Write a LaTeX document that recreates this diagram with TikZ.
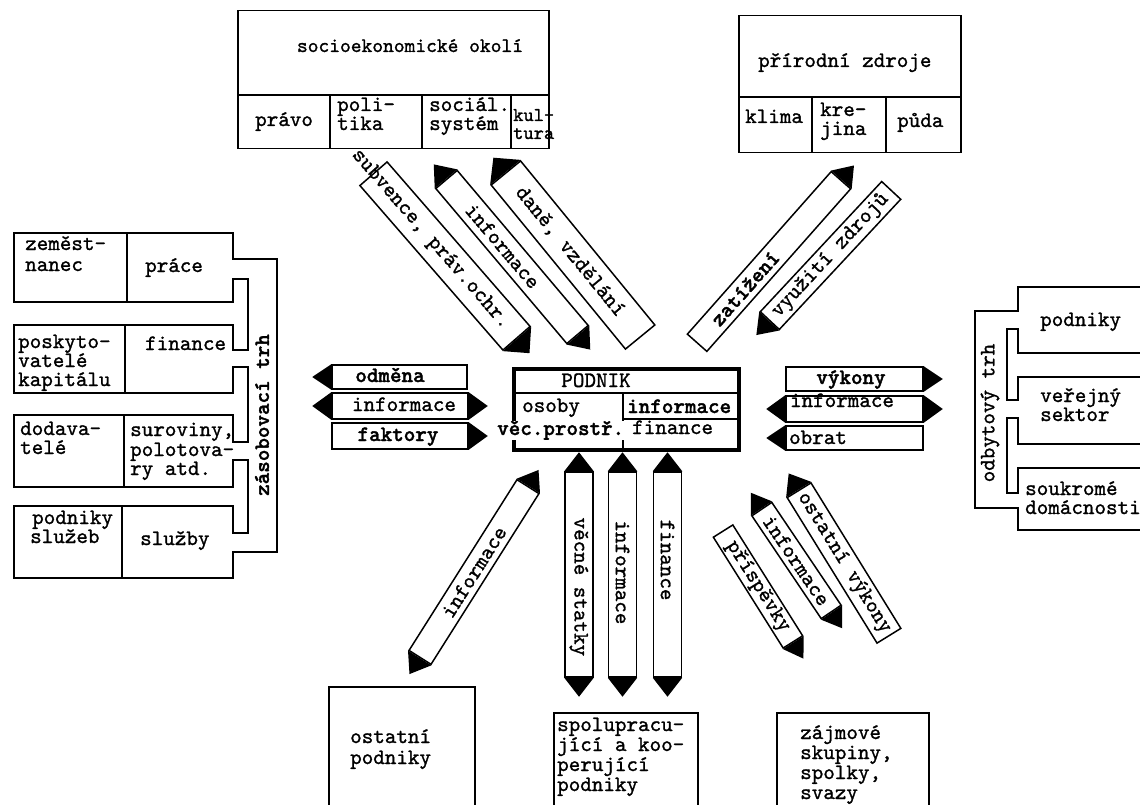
\documentclass[tikz,border=0pt]{standalone}
\usepackage{fontspec}
\newfontfamily\tw{lmmono10-regular.otf}[BoldFont=lmmonolt10-bold.otf, UprightFeatures={FakeBold=1.2}, BoldFeatures={FakeBold=1.6}]
\usetikzlibrary{calc}
\newcommand\fsz{\tw\fontsize{22}{20}\selectfont}
\newcommand\fss{\tw\fontsize{20.5}{20}\selectfont}
\newcommand\fsk{\tw\fontsize{19.5}{20}\selectfont}
\tikzset{
 ln/.style={line width=1.5pt},
 lbl/.style={inner sep=0pt, font=\fsz, anchor=base west},
 lblc/.style={inner sep=0pt, font=\fsz, anchor=base},
 blab/.style={inner sep=0pt, font=\fsz},
 frame/.style={draw, line width=1.5pt, inner sep=0pt, anchor=north west},
 band/.style={draw, line width=1.5pt, fill=white, inner sep=0pt, minimum width=#1},
 bw/.style={minimum height=#1},
}
\newcommand\headW[1]{\fill (#1.north west) -- ($(#1.west)!-19pt!(#1.east)$) -- (#1.south west) -- cycle;}
\newcommand\headE[1]{\fill (#1.north east) -- ($(#1.east)!-19pt!(#1.west)$) -- (#1.south east) -- cycle;}
\newcommand\putl[3]{\node[lbl] (#1) at #2 {#3};}
\begin{document}
\begin{tikzpicture}[x=1pt,y=-1pt]
\useasboundingbox[fill=white] (0,0) rectangle (1140,805);

% ---------- socioekonomicke okoli ----------
\node[frame, minimum width=311pt, minimum height=138pt] (soc) at (237,10) {};
\draw[ln] (237,95) -- (548,95);
\draw[ln] (330,95) -- (330,148);
\draw[ln] (422,95) -- (422,148);
\draw[ln] (511,95) -- (511,148);
\node[lblc, font=\fss] (tsoc) at (410,52) {socioekonomické okolí};
\putl{tpravo}{(255,126)}{právo}
\putl{tpol1}{(337,111)}{poli-}
\putl{tpol2}{(337,130)}{tika}
\putl{tsoc1}{(429,111)}{sociál.}
\putl{tsoc2}{(429,130)}{systém}
\node[lbl, font=\fsk] (tkul1) at (513,121) {kul-};
\node[lbl, font=\fsk] (tkul2) at (513,139) {tura};

% ---------- prirodni zdroje ----------
\node[frame, minimum width=222pt, minimum height=137pt] (nat) at (738,15) {};
\draw[ln] (738,97) -- (960,97);
\draw[ln] (812,97) -- (812,152);
\draw[ln] (886,97) -- (886,152);
\putl{tnat}{(758,67)}{přírodní zdroje}
\putl{tkli}{(745,123)}{klima}
\putl{tkra1}{(820,116)}{kre-}
\putl{tkra2}{(820,135)}{jina}
\putl{tpud}{(897,127)}{půda}

% ---------- zasobovaci trh ----------
\draw[ln] (233,259) -- (233,233) -- (14,233) -- (14,302) -- (233,302) -- (233,279) -- (248,279) -- (248,350) -- (233,350) -- (233,325) -- (14,325) -- (14,393) -- (233,393) -- (233,367) -- (248,367) -- (248,442) -- (233,442) -- (233,415) -- (14,415) -- (14,487) -- (233,487) -- (233,460) -- (248,460) -- (248,533) -- (233,533) -- (233,506) -- (14,506) -- (14,578) -- (233,578) -- (233,552) -- (277,552) -- (277,259) -- cycle;
\draw[ln] (127,233) -- (127,302);
\draw[ln] (125,325) -- (125,393);
\draw[ln] (124,415) -- (124,487);
\draw[ln] (122,506) -- (122,578);
\node[blab, rotate=90, font=\fsz\bfseries] (tzas) at (262,415) {zásobovací trh};
\putl{tzam1}{(25,250)}{zeměst-}
\putl{tzam2}{(25,271)}{nanec}
\putl{tprace}{(145,272)}{práce}
\putl{tpos1}{(18,348)}{poskyto-}
\putl{tpos2}{(18,367)}{vatelé}
\putl{tpos3}{(18,386)}{kapitálu}
\putl{tfin}{(145,350)}{finance}
\putl{tdod1}{(20,435)}{dodava-}
\putl{tdod2}{(20,454)}{telé}
\putl{tsur1}{(130,436)}{suroviny,}
\putl{tsur2}{(130,456)}{polotova-}
\putl{tsur3}{(130,475)}{ry atd.}
\putl{tpsl1}{(32,524)}{podniky}
\putl{tpsl2}{(30,543)}{služeb}
\putl{tsluz}{(140,545)}{služby}

% ---------- odbytovy trh ----------
\draw[ln] (1145,287) -- (1018,287) -- (1018,311) -- (975,311) -- (975,508) -- (1018,508) -- (1018,530) -- (1145,530);
\draw[ln] (1145,353) -- (1018,353) -- (1018,329) -- (1007,329) -- (1007,400) -- (1018,400) -- (1018,377) -- (1145,377);
\draw[ln] (1145,444) -- (1018,444) -- (1018,418) -- (1007,418) -- (1007,493) -- (1018,493) -- (1018,468) -- (1145,468);
\node[blab, rotate=90] (todb) at (990,413) {odbytový trh};
\putl{tpod}{(1040,326)}{podniky}
\putl{tver1}{(1040,402)}{veřejný}
\putl{tver2}{(1040,421)}{sektor}
\putl{tsou1}{(1025,495)}{soukromé}
\putl{tsou2}{(1025,514)}{domácnosti}

% ---------- PODNIK ----------
\node[draw, line width=3.5pt, inner sep=0pt, anchor=north west, minimum width=225pt, minimum height=81pt] (pod) at (512,367) {};
\draw[ln] (512,393) -- (737,393);
\draw[ln] (623,393) -- (623,448);
\draw[ln] (623,419) -- (737,419);
\node[lblc] (tpodnik) at (596,387) {PODNIK};
\putl{tosoby}{(522,412)}{osoby}
\putl{tinfp}{(627,413)}{\bfseries informace}
\node[lbl, fill=white] (tvec) at (497,435) {\bfseries věc.prostř.};
\putl{tfinp}{(632,434)}{finance}

% ---------- horizontal arrows left ----------
\node[band=135pt, bw=24pt] (aodm) at (399.5,377) {};
\headW{aodm}
\node[lblc, font=\fsz\bfseries] (todm) at (390,382) {odměna};
\node[band=136pt, bw=26pt] (ainfl) at (400,406) {};
\headW{ainfl}\headE{ainfl}
\node[lblc] (tinfl) at (404,411) {informace};
\node[band=136pt, bw=26pt] (afak) at (400,436) {};
\headE{afak}
\node[lblc, font=\fsz\bfseries] (tfak) at (398,441) {faktory};

% ---------- horizontal arrows right ----------
\node[band=137pt, bw=24pt] (avyk) at (854.5,379) {};
\headE{avyk}
\node[lblc, font=\fsz\bfseries] (tvyk) at (851,384) {výkony};
\node[band=137pt, bw=26pt] (ainfr) at (854.5,409) {};
\headW{ainfr}\headE{ainfr}
\node[lblc] (tinfr) at (842,407) {informace};
\node[band=137pt, bw=24pt] (aobr) at (854.5,438) {};
\headW{aobr}
\node[lblc] (tobr) at (818,444) {obrat};

% ---------- diagonal bands upper left ----------
\node[band=218pt, bw=36pt, rotate=-49] (bsub) at (445,256) {};
\headE{bsub}
\node[blab, rotate=-49] (tsub) at ($(bsub.west)!0.40!(bsub.east)$) {subvence, práv.ochr.};
\node[band=203pt, bw=28pt, rotate=-49.8] (binf1) at (512,257) {};
\headW{binf1}\headE{binf1}
\node[blab, rotate=-49.8] (tinf1) at ($(binf1.west)!0.43!(binf1.east)$) {informace};
\node[band=212pt, bw=38pt, rotate=-50.7] (bdan) at (573,255) {};
\headW{bdan}
\node[blab, rotate=-50.7] (tdan) at ($(bdan.west)!0.48!(bdan.east)$) {daně, vzdělání};

% ---------- diagonal bands upper right ----------
\node[band=217pt, bw=26pt, rotate=48.5] (bzat) at (769,261.5) {};
\headE{bzat}
\node[blab, rotate=48.5, font=\fsz\bfseries] (tzat) at ($(bzat.west)!0.335!(bzat.east)$) {zatížení};
\node[band=178pt, bw=26pt, rotate=47] (bvyu) at (830.5,255.5) {};
\headW{bvyu}
\node[blab, rotate=47] (tvyu) at (bvyu.center) {využití zdrojů};

% ---------- lower left ----------
\node[band=202pt, bw=26pt, rotate=57.7] (binf2) at (474,572) {};
\headW{binf2}\headE{binf2}
\node[blab, rotate=57.7] (tinf2) at (binf2.center) {informace};

% ---------- vertical bands ----------
\node[band=205pt, bw=28pt, rotate=-90] (bv1) at (579,574.5) {};
\headW{bv1}\headE{bv1}
\node[blab, rotate=-90] (tv1) at ($(bv1.west)!0.56!(bv1.east)$) {věcné statky};
\node[band=205pt, bw=28pt, rotate=-90] (bv2) at (622.5,574.5) {};
\headW{bv2}\headE{bv2}
\node[blab, rotate=-90] (tv2) at ($(bv2.west)!0.49!(bv2.east)$) {informace};
\node[band=205pt, bw=28pt, rotate=-90] (bv3) at (667.5,574.5) {};
\headW{bv3}\headE{bv3}
\node[blab, rotate=-90] (tv3) at ($(bv3.west)!0.43!(bv3.east)$) {finance};

% ---------- lower right ----------
\node[band=131pt, bw=23pt, rotate=-57.8] (bpri) at (758,586.5) {};
\headE{bpri}
\node[blab, rotate=-57.8] (tpri) at (bpri.center) {příspěvky};
\node[band=124pt, bw=24pt, rotate=-56] (binf3) at (796.5,560.5) {};
\headW{binf3}\headE{binf3}
\node[blab, rotate=-56] (tinf3) at (binf3.center) {informace};
\node[band=171pt, bw=28pt, rotate=-58.3] (bost) at (844,563) {};
\headW{bost}
\node[blab, rotate=-58.3] (tost) at (bost.center) {ostatní výkony};

% ---------- bottom boxes ----------
\node[frame, minimum width=146pt, minimum height=140pt] (bost2) at (328,686) {};
\putl{tos1}{(350,743)}{ostatní}
\putl{tos2}{(350,764)}{podniky}
\node[frame, minimum width=144pt, minimum height=110pt] (bspo) at (553,712) {};
\putl{tsp1}{(557,731)}{spolupracu-}
\putl{tsp2}{(557,751)}{jící a koo-}
\putl{tsp3}{(557,771)}{perující}
\putl{tsp4}{(557,791)}{podniky}
\node[frame, minimum width=152pt, minimum height=110pt] (bzaj) at (776,712) {};
\putl{tza1}{(800,739)}{zájmové}
\putl{tza2}{(800,759)}{skupiny,}
\putl{tza3}{(800,779)}{spolky,}
\putl{tza4}{(800,799)}{svazy}
\end{tikzpicture}
\end{document}
